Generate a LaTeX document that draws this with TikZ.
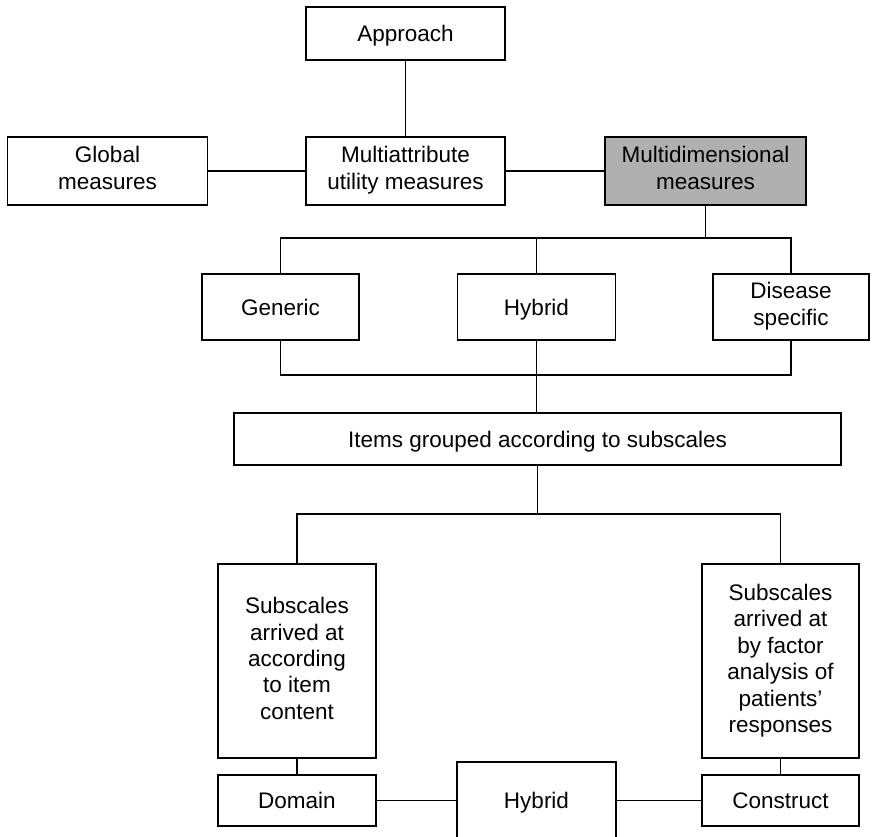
\documentclass[tikz,border=0pt]{standalone}
\usepackage{fontspec}
\setmainfont{Liberation Sans}
% strut whose middle sits at half the cap height, so text looks centred
\newcommand\boxstrut{\rule[-5.5pt]{0pt}{27pt}}
\begin{document}
\begin{tikzpicture}[x=1pt,y=-1pt,
  box/.style={draw, line width=1.3pt, rectangle, inner sep=0pt, align=center,
    font=\fontsize{22.5}{27}\selectfont,
    execute at begin node=\boxstrut, execute at end node=\boxstrut},
  tallbox/.style={box, font=\fontsize{22.5}{26.4}\selectfont},
  link/.style={line width=1.3pt}]
\useasboundingbox (0,0) rectangle (872,836);

% top level
\node[box, minimum width=199pt, minimum height=53pt] (appr) at (405.5,33.5) {Approach};
\node[box, minimum width=200pt, minimum height=68pt] (glob) at (107.5,171) {Global\\measures};
\node[box, minimum width=199pt, minimum height=68pt] (mau) at (405.5,171) {Multiattribute\\utility measures};
\node[box, fill=black!31, minimum width=201pt, minimum height=68pt] (mdm) at (705.5,171) {Multidimensional\\measures};

% kinds of multidimensional measures
\node[box, minimum width=157pt, minimum height=66pt] (gen) at (280.5,307) {Generic};
\node[box, minimum width=158pt, minimum height=66pt] (hyb) at (536.5,307) {Hybrid};
\node[box, minimum width=156pt, minimum height=66pt] (dis) at (791,307) {Disease\\specific};

\node[box, minimum width=607pt, minimum height=52pt] (items) at (537.5,439) {Items grouped according to subscales};

% ways of arriving at subscales
\node[tallbox, minimum width=158pt, minimum height=194pt] (sl) at (297,661)
  {Subscales\\arrived at\\according\\to item\\content};
\node[tallbox, minimum width=157pt, minimum height=194pt] (sr) at (780.5,661)
  {Subscales\\arrived at\\by factor\\analysis of\\patients'\\responses};

\node[box, minimum width=158pt, minimum height=51pt] (dom) at (297,800.5) {Domain};
\node[box, minimum width=159pt, minimum height=76pt] (hyb2) at (536.5,800) {Hybrid};
\node[box, minimum width=157pt, minimum height=51pt] (con) at (780.5,800.5) {Construct};

% junction points of the branching lines
\coordinate (b1) at (mdm.south |- 0,238);
\coordinate (b1l) at (gen.north |- 0,238);
\coordinate (b1r) at (dis.north |- 0,238);
\coordinate (b1m) at (hyb.north |- 0,238);
\coordinate (b2l) at (gen.south |- 0,375);
\coordinate (b2r) at (dis.south |- 0,375);
\coordinate (b3) at (items.south |- 0,514);
\coordinate (b3l) at (sl.north |- 0,514);
\coordinate (b3r) at (sr.north |- 0,514);

\draw[link] (appr) -- (mau);
\draw[link] (glob) -- (mau);
\draw[link] (mau) -- (mdm);

\draw[link] (mdm.south) -- (b1);
\draw[link] (gen.north) -- (b1l) -- (b1r) -- (dis.north);
\draw[link] (b1m) -- (hyb.north);

\draw[link] (gen.south) -- (b2l) -- (b2r) -- (dis.south);
\draw[link] (hyb.south) -- (hyb.south |- items.north);

\draw[link] (items.south) -- (b3);
\draw[link] (sl.north) -- (b3l) -- (b3r) -- (sr.north);

\draw[link] (sl) -- (dom);
\draw[link] (sr) -- (con);
\draw[link] (dom.east) -- (dom.east -| hyb2.west);
\draw[link] (con.west) -- (con.west -| hyb2.east);
\end{tikzpicture}
\end{document}
